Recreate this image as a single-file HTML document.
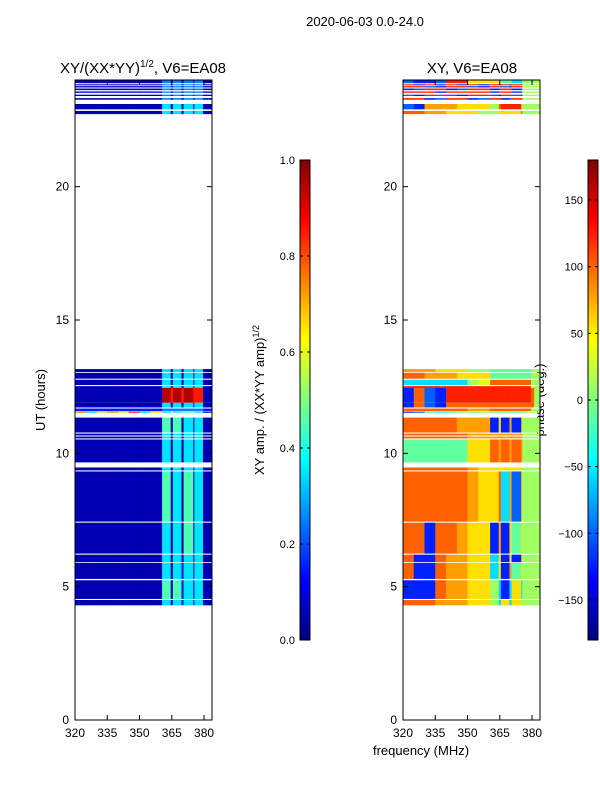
<!DOCTYPE html>
<html><head><meta charset="utf-8"><style>
body{margin:0;background:#fff;}
svg text{font-family:"Liberation Sans","DejaVu Sans",sans-serif;fill:#000;}
</style></head><body>
<svg id="fig" width="600" height="800" xmlns="http://www.w3.org/2000/svg">
<text x="365" y="26" font-size="13" text-anchor="middle">2020-06-03 0.0-24.0</text>
<text x="143" y="73" font-size="15" text-anchor="middle">XY/(XX*YY)<tspan font-size="10" dy="-6">1/2</tspan><tspan dy="6">, V6=EA08</tspan></text>
<text x="472" y="73" font-size="15" text-anchor="middle">XY, V6=EA08</text>
<text x="421" y="755" font-size="13" text-anchor="middle">frequency (MHz)</text>
<text transform="translate(45,400) rotate(-90)" font-size="13" text-anchor="middle">UT (hours)</text>
<text transform="translate(264,400) rotate(-90)" font-size="13" text-anchor="middle">XY amp. / (XX*YY amp)<tspan font-size="9" dy="-5">1/2</tspan></text>
<text transform="translate(544,400) rotate(-90)" font-size="13" text-anchor="middle">phase (deg.)</text>
<g id="left"></g><g id="right"></g><g id="cb1"></g><g id="cb2"></g>
</svg>
<script>
// frequency bin edges (MHz)
const freqEdges=[320,325,330,335,340,345,350,355,360.5,364.5,365.5,369.5,370.5,375,375.5,379.5,381,384];
// time segments (UT hours)
const segStart=[4.30,4.54,5.29,5.92,6.24,7.44,9.36,9.66,10.56,10.67,10.78,11.52,11.58,11.72,11.90,12.45,12.56,12.80,13.05,22.72,22.90,23.26,23.40,23.52,23.62,23.72,23.80,23.88];
const segEnd=  [4.50,5.24,5.89,6.20,7.40,9.32,9.47,10.52,10.63,10.74,11.34,11.56,11.68,11.90,12.45,12.52,12.76,13.02,13.16,22.84,23.10,23.32,23.45,23.57,23.68,23.77,23.84,24.0];
// amplitude digits d -> (d+0.5)/10
const ampRows=["00000000303130300","00000000404130300","00000000303130300","00000000303030300","00000000303040300","00000000403040300","00000000303030300","00000000303030300","00000000303030300","00000000303030300","00000000404030300","73575836353545300","11111111222222211","00000000303030300","00000000989898800","00000000303030300","00000000303030300","00000000303030300","00000000303030300","00000000303030300","00000000303030300","00000000202020200","00000000202020200","00000000202020200","00000000202020200","00000000202020200","00000000202020200","00000000202020200"];
// phase hex digits d -> -180+(d+0.5)*22.5 degrees
const phaseRows=["cccbbbaa85a5a8888","222cbbaa8525a5888","c22cbbaa5a2b7a888","c22cbbaa5a2a2a888","cc2ccbaa2b2a7a888","ccccccbaac5b3a888","ccccccbaaaaaaa888","777777aacbcbcb888","ccccccbbbbbbbb888","ccccccbbbbbbbb888","cccccbbb2a2b2a888","23767878787878888","ccccccbbccccccc88","2c32cccccccccccc8","2c32dddddddddddc8","ddddddddddddddd88","55555589ccccccc88","ccbbbaaa777777788","bbbaaa88777777788","ccbbaaa88aaaac888","32bbbaaa8cddda888","dd23dd23dd23dd888","32dd32dd32dd32888","ddd2dddd2ddd2d888","23dd23dd23dd23888","dd32dd32dd32dd888","d2d2d2d2d2d2d2888","3223ddaaa87755888"];
const ampTicks=[0,0.2,0.4,0.6,0.8,1.0];
const phaseTicks=[-150,-100,-50,0,50,100,150];
const yTicks=[0,5,10,15,20];
const xTicks=[320,335,350,365,380];

(function(){
const NS="http://www.w3.org/2000/svg";
function jet(x){x=Math.max(0,Math.min(1,x));const c=v=>Math.round(255*Math.max(0,Math.min(1,1.5-Math.abs(v))));return `rgb(${c(4*x-3)},${c(4*x-2)},${c(4*x-1)})`;}
function mk(tag,attrs,parent){const e=document.createElementNS(NS,tag);for(const k in attrs)e.setAttribute(k,attrs[k]);parent.appendChild(e);return e;}
const axTop=80,axBot=720,f0=320,f1=383.7,h0=0,h1=24;
const yS=h=>axBot-(h-h0)/(h1-h0)*(axBot-axTop);
function drawPanel(g,x0,x1,rows,valFn,name){
  const xS=f=>x0+(f-f0)/(f1-f0)*(x1-x0);
  rows.forEach((row,si)=>{
    for(let i=0;i<row.length;i++){
      const d=parseInt(row[i],16);
      const r=mk('rect',{x:xS(freqEdges[i]).toFixed(2),y:yS(segEnd[si]).toFixed(2),width:(Math.min(xS(freqEdges[i+1]),x1)-xS(freqEdges[i])+0.3).toFixed(2),height:(yS(segStart[si])-yS(segEnd[si])).toFixed(2),fill:jet(valFn(d))},g);
      
      
    }
  });
  const fr=mk('rect',{x:x0,y:axTop,width:x1-x0,height:axBot-axTop,fill:'none',stroke:'#000','stroke-width':1},g);
  
  
  yTicks.forEach(t=>{
    const y=yS(t);
    mk('line',{x1:x0,x2:x0+5,y1:y,y2:y,stroke:'#000'},g);
    mk('line',{x1:x1,x2:x1-5,y1:y,y2:y,stroke:'#000'},g);
    const tx=mk('text',{x:x0-6,y:y+4,'font-size':12,'text-anchor':'end'},g);tx.textContent=t;
    
    
  });
  xTicks.forEach(t=>{
    const x=xS(t);
    mk('line',{x1:x,x2:x,y1:axBot,y2:axBot-5,stroke:'#000'},g);
    mk('line',{x1:x,x2:x,y1:axTop,y2:axTop+5,stroke:'#000'},g);
    const tx=mk('text',{x:x,y:axBot+17,'font-size':12,'text-anchor':'middle'},g);tx.textContent=t;
    
    
  });
}
drawPanel(document.getElementById('left'),75,212,ampRows,d=>(d+0.5)/10,'amp');
drawPanel(document.getElementById('right'),403,540,phaseRows,d=>((d+0.5)*22.5)/360,'phase');
function drawCb(g,x,vmin,vmax,ticks,name){
  const y0=160,y1=640,w=10;
  for(let i=0;i<120;i++){
    const r=mk('rect',{x:x,y:y1-(i+1)*4,width:w,height:4.3,fill:jet((i+0.5)/120)},g);
    
    
  }
  mk('rect',{x:x,y:y0,width:w,height:y1-y0,fill:'none',stroke:'#000'},g);
  ticks.forEach(t=>{
    const y=y1-(t-vmin)/(vmax-vmin)*(y1-y0);
    mk('line',{x1:x,x2:x+3,y1:y,y2:y,stroke:'#000'},g);
    mk('line',{x1:x+w,x2:x+w-3,y1:y,y2:y,stroke:'#000'},g);
    const tx=mk('text',{x:x-5,y:y+4,'font-size':11,'text-anchor':'end'},g);
    tx.textContent=(name==='amp-colorbar')?t.toFixed(1):(t<0?'\u2212'+(-t):t);
    
    
  });
}
drawCb(document.getElementById('cb1'),300,0,1,ampTicks,'amp-colorbar');
drawCb(document.getElementById('cb2'),588,-180,180,phaseTicks,'phase-colorbar');
})();
</script>
</body></html>
